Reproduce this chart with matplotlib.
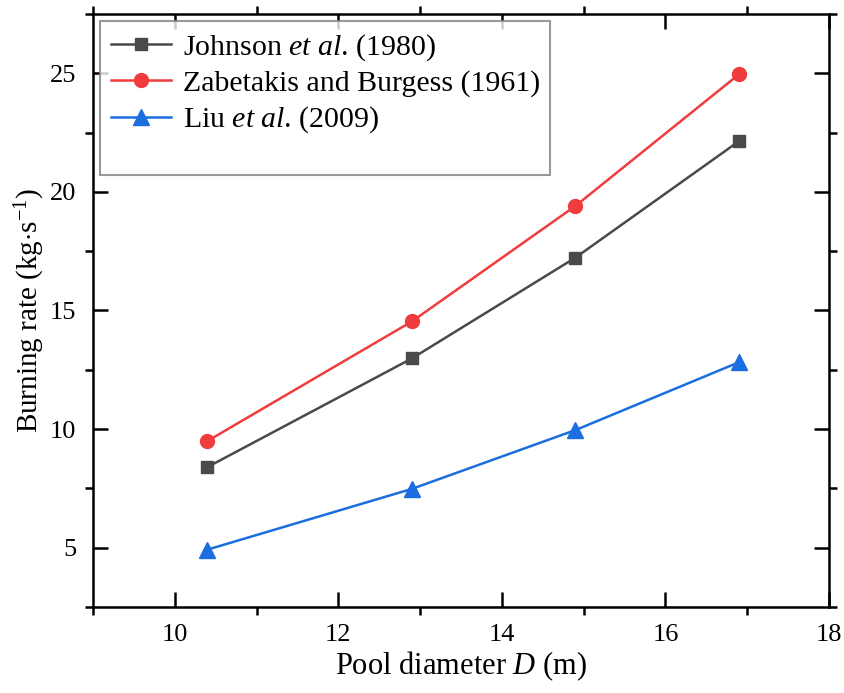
import numpy as np
import matplotlib
matplotlib.use("Agg")
import matplotlib.pyplot as plt
from matplotlib.ticker import MultipleLocator

plt.rcParams['font.family'] = ['Liberation Serif', 'DejaVu Serif']
plt.rcParams['mathtext.fontset'] = 'custom'
plt.rcParams['mathtext.rm'] = 'Liberation Serif'
plt.rcParams['mathtext.it'] = 'Liberation Serif:italic'

# pool diameters (m)
diameter = [10.4, 12.9, 14.9, 16.9]

# burning rates (kg/s)
johnson = [8.40, 12.98, 17.23, 22.14]
zabetakis = [9.50, 14.54, 19.41, 24.96]
liu = [4.92, 7.48, 9.96, 12.82]

labels = ['Johnson $\\mathit{et\\ al}$. (1980)',
          'Zabetakis and Burgess (1961)',
          'Liu $\\mathit{et\\ al}$. (2009)']

fig = plt.figure(figsize=(8.45, 6.93), dpi=100)
ax = fig.add_axes([93/845, 1-607/693, (829-93)/845, (607-14)/693])

ax.plot(diameter, johnson, color='#4a4a4a', marker='s', markersize=9, lw=1.8, label=labels[0])
ax.plot(diameter, zabetakis, color='#f03c3c', marker='o', markersize=10, lw=1.8, label=labels[1])
ax.plot(diameter, liu, color='#1a6ee0', marker='^', markersize=11, lw=1.8, label=labels[2])
# blank entry so the legend box keeps the empty room under the last line
ax.plot([], [], ' ', label=' ')

ax.set_xlim(9, 18)
ax.set_ylim(2.5, 27.5)
ax.xaxis.set_major_locator(MultipleLocator(2))
ax.xaxis.set_minor_locator(MultipleLocator(1))
ax.yaxis.set_major_locator(MultipleLocator(5))
ax.yaxis.set_minor_locator(MultipleLocator(2.5))

ax.tick_params(which='major', direction='in', length=11, width=1.8, labelsize=19,
               top=True, right=True, pad=12)
ax.tick_params(which='minor', direction='out', length=6, width=1.8,
               top=True, right=True)
for s in ax.spines.values():
    s.set_linewidth(1.8)

ax.set_xlabel('Pool diameter $\\mathit{D}$ (m)', fontsize=22, labelpad=3)
ax.set_ylabel('Burning rate (kg$\\cdot$s$^{-1}$)', fontsize=21, labelpad=2)

leg = ax.legend(loc='upper left', fontsize=21.5, frameon=True, fancybox=False,
                edgecolor='#808080', handlelength=2.0, borderpad=0.35,
                labelspacing=0.25, handletextpad=0.4, borderaxespad=0.25)
leg.get_frame().set_linewidth(1.5)
leg.get_texts()[3].set_fontsize(5)

fig.savefig('out.png', dpi=100)
